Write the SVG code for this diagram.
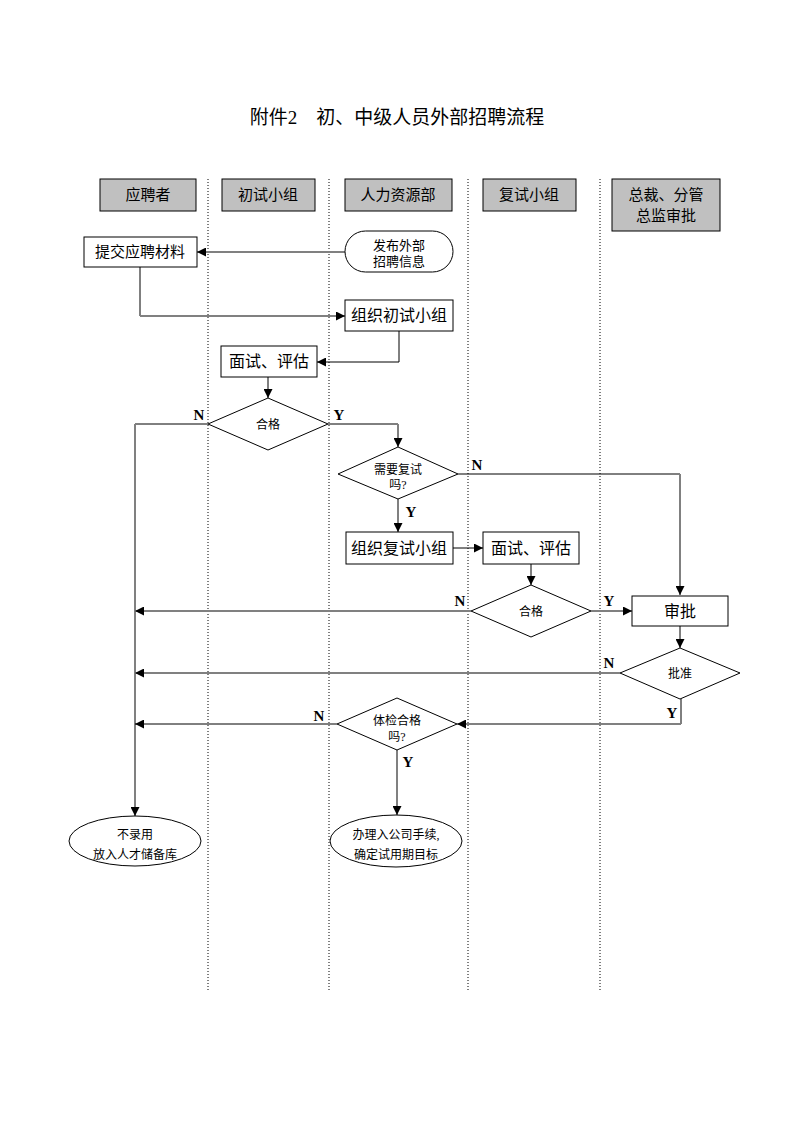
<svg xmlns="http://www.w3.org/2000/svg" width="793" height="1122" viewBox="0 0 793 1122">
<style>
.t{font-family:"Liberation Serif","Noto Sans CJK SC",serif;fill:#000;text-anchor:middle}
.title{font-size:19px}
.h{font-size:15px}
.n{font-size:15px}
.s{font-size:12px}
.yn{font-family:"Liberation Serif",serif;font-weight:bold;font-size:15px;fill:#000;text-anchor:middle}
.hdr{fill:#c0c0c0;stroke:#000;stroke-width:1}
.box{fill:#fff;stroke:#000;stroke-width:1}
.lane{stroke:#000;stroke-width:1;stroke-dasharray:1,2;fill:none}
.k{stroke:#000;stroke-width:1;fill:none}
.g{stroke:#808080;stroke-width:2;fill:none}
</style>
<defs>
<marker id="ah" markerUnits="userSpaceOnUse" markerWidth="9" markerHeight="9" refX="9" refY="4.5" orient="auto">
<path d="M0,0 L9,4.5 L0,9 z" fill="#000"/>
</marker>
</defs>
<rect width="793" height="1122" fill="#fff"/>
<text class="t title" x="397" y="124">附件2　初、中级人员外部招聘流程</text>

<g id="lanes">
<line class="lane" x1="208" y1="179" x2="208" y2="990"/>
<line class="lane" x1="329" y1="179" x2="329" y2="990"/>
<line class="lane" x1="468" y1="179" x2="468" y2="990"/>
<line class="lane" x1="600" y1="179" x2="600" y2="990"/>
</g>

<g id="header-applicant"><rect class="hdr" x="100" y="179" width="96" height="32"/><text class="t h" x="148" y="200">应聘者</text></g>
<g id="header-first"><rect class="hdr" x="222" y="179" width="93" height="32"/><text class="t h" x="268" y="200">初试小组</text></g>
<g id="header-hr"><rect class="hdr" x="345" y="179" width="107" height="32"/><text class="t h" x="398" y="200">人力资源部</text></g>
<g id="header-second"><rect class="hdr" x="483" y="179" width="93" height="32"/><text class="t h" x="529" y="200">复试小组</text></g>
<g id="header-ceo"><rect class="hdr" x="612" y="179" width="108" height="52"/><text class="t h" x="666" y="200">总裁、分管</text><text class="t h" x="666" y="221">总监审批</text></g>

<g id="connectors">
<path class="g" d="M345,252 H197" marker-end="url(#ah)"/>
<path class="k" d="M140,267 V316"/>
<path class="g" d="M140,316 H345" marker-end="url(#ah)"/>
<path class="k" d="M399,331 V362 H317" marker-end="url(#ah)"/>
<path class="g" d="M268,377 V398" marker-end="url(#ah)"/>
<path class="k" d="M208,424 H135"/>
<path class="g" d="M135,424 V816" marker-end="url(#ah)"/>
<path class="k" d="M328,424 H398"/>
<path class="g" d="M398,424 V447" marker-end="url(#ah)"/>
<path class="k" d="M458,474 H680"/>
<path class="g" d="M680,474 V595" marker-end="url(#ah)"/>
<path class="g" d="M398,499 V532" marker-end="url(#ah)"/>
<path class="k" d="M453,548 H483" marker-end="url(#ah)"/>
<path class="k" d="M531,564 V585" marker-end="url(#ah)"/>
<path class="g" d="M471,611 H135" marker-end="url(#ah)"/>
<path class="g" d="M591,611 H632" marker-end="url(#ah)"/>
<path class="k" d="M680,626 V648" marker-end="url(#ah)"/>
<path class="g" d="M620,673 H135" marker-end="url(#ah)"/>
<path class="k" d="M681,699 V724"/>
<path class="g" d="M681,724 H457" marker-end="url(#ah)"/>
<path class="k" d="M337,724 H135" marker-end="url(#ah)"/>
<path class="g" d="M397,750 V815" marker-end="url(#ah)"/>
<text class="yn" x="199" y="420">N</text>
<text class="yn" x="339" y="420">Y</text>
<text class="yn" x="477" y="470">N</text>
<text class="yn" x="411" y="517">Y</text>
<text class="yn" x="460" y="606">N</text>
<text class="yn" x="609" y="606">Y</text>
<text class="yn" x="609" y="668">N</text>
<text class="yn" x="672" y="718">Y</text>
<text class="yn" x="319" y="721">N</text>
<text class="yn" x="408" y="767">Y</text>
</g>

<g id="publish"><rect class="box" x="345" y="231" width="108" height="41" rx="20.5"/><text class="t s" x="399" y="250" style="font-size:13px">发布外部</text><text class="t s" x="399" y="266" style="font-size:13px">招聘信息</text></g>
<g id="submit"><rect class="box" x="84" y="237" width="113" height="30"/><text class="t n" x="140" y="257">提交应聘材料</text></g>
<g id="org-first"><rect class="box" x="345" y="300" width="108" height="31"/><text class="t n" x="399" y="321" style="font-size:16px">组织初试小组</text></g>
<g id="interview1"><rect class="box" x="221" y="346" width="96" height="31"/><text class="t n" x="269" y="367" style="font-size:16px">面试、评估</text></g>
<g id="pass1"><polygon class="box" points="268,398 328,424 268,450 208,424"/><text class="t s" x="268" y="429">合格</text></g>
<g id="need-second"><polygon class="box" points="398,447 458,474 398,499 338,474"/><text class="t s" x="398" y="474">需要复试</text><text class="t s" x="398" y="489">吗?</text></g>
<g id="org-second"><rect class="box" x="346" y="532" width="107" height="32"/><text class="t n" x="399" y="554" style="font-size:16px">组织复试小组</text></g>
<g id="interview2"><rect class="box" x="483" y="532" width="96" height="32"/><text class="t n" x="531" y="554" style="font-size:16px">面试、评估</text></g>
<g id="pass2"><polygon class="box" points="531,585 591,611 531,637 471,611"/><text class="t s" x="531" y="616">合格</text></g>
<g id="approve"><rect class="box" x="632" y="596" width="96" height="30"/><text class="t n" x="680" y="617" style="font-size:16px">审批</text></g>
<g id="approved"><polygon class="box" points="680,648 740,673 680,699 620,673"/><text class="t s" x="680" y="678">批准</text></g>
<g id="medical"><polygon class="box" points="397,698 457,724 397,750 337,724"/><text class="t s" x="397" y="725">体检合格</text><text class="t s" x="397" y="741">吗?</text></g>
<g id="reject"><ellipse class="box" cx="135" cy="841" rx="66" ry="25"/><text class="t s" x="135" y="839">不录用</text><text class="t s" x="135" y="859">放入人才储备库</text></g>
<g id="hire"><ellipse class="box" cx="396" cy="841" rx="66" ry="26"/><text class="t s" x="396" y="839">办理入公司手续,</text><text class="t s" x="396" y="859">确定试用期目标</text></g>
</svg>
